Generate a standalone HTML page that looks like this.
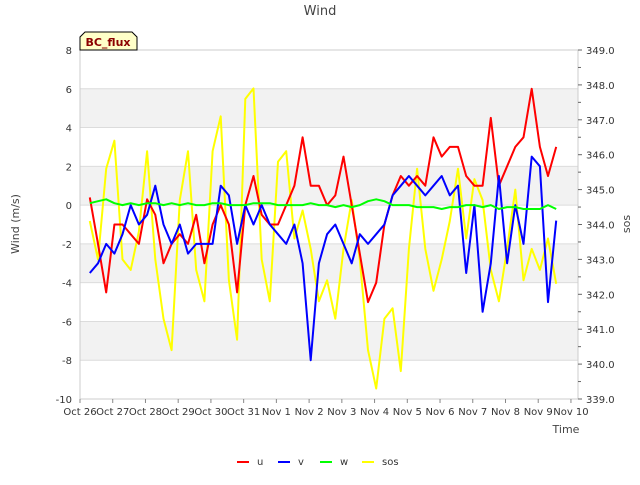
<!DOCTYPE html>
<html><head><meta charset="utf-8"><style>
body{margin:0;background:#fff;font-family:"Liberation Sans","DejaVu Sans",sans-serif;}
svg text{font-family:"DejaVu Sans","Liberation Sans",sans-serif;}
</style></head><body>
<svg id="chart" width="640" height="480" viewBox="0 0 640 480" xmlns="http://www.w3.org/2000/svg">
<text x="320" y="15" text-anchor="middle" font-size="13" fill="#444">Wind</text>
<g id="bands"></g>
<g id="grid"></g>
<g id="axes"></g>
<g id="series"></g>
<g>
<path d="M80,50 L80,37 L85,32 L132,32 L137,37 L137,50 Z" fill="#ffffc8" stroke="#000" stroke-width="1"/>
<text x="108" y="46" text-anchor="middle" font-size="11" font-weight="bold" fill="#8b0000">BC_flux</text>
</g>
<text transform="translate(19,224) rotate(-90)" text-anchor="middle" font-size="11" fill="#444">Wind (m/s)</text>
<text transform="translate(630,224) rotate(-90)" text-anchor="middle" font-size="11" fill="#444">sos</text>
<text x="566" y="433" text-anchor="middle" font-size="11" fill="#444">Time</text>
<g id="legend"></g>
</svg>
<script>
const ns="http://www.w3.org/2000/svg";
const xTicks=["Oct 26","Oct 27","Oct 28","Oct 29","Oct 30","Oct 31","Nov 1","Nov 2","Nov 3","Nov 4","Nov 5","Nov 6","Nov 7","Nov 8","Nov 9","Nov 10"];
const yTicks=[-10,-8,-6,-4,-2,0,2,4,6,8];
const y2Ticks=[339,340,341,342,343,344,345,346,347,348,349];
const tStart=0.3, tStep=0.25;
const u=[0.4,-2,-4.5,-1,-1,-1.5,-2,0.3,-0.5,-3,-2,-1.5,-2,-0.5,-3,-1,0,-1,-4.5,0,1.5,-0.5,-1,-1,0,1,3.5,1,1,0,0.5,2.5,0,-2.5,-5,-4,-1,0.5,1.5,1,1.5,1,3.5,2.5,3,3,1.5,1,1,4.5,1,2,3,3.5,6,3,1.5,3];
const v=[-3.5,-3,-2,-2.5,-1.5,0,-1,-0.5,1,-1,-2,-1,-2.5,-2,-2,-2,1,0.5,-2,0,-1,0,-1,-1.5,-2,-1,-3,-8,-3,-1.5,-1,-2,-3,-1.5,-2,-1.5,-1,0.5,1,1.5,1,0.5,1,1.5,0.5,1,-3.5,0,-5.5,-3,1.5,-3,0,-2,2.5,2,-5,-0.8];
const w=[0.1,0.2,0.3,0.1,0,0.1,0,0.1,0.1,0,0.1,0,0.1,0,0,0.1,0.1,0,0,0,0.1,0.1,0.1,0,0,0,0,0.1,0,0,-0.1,0,-0.1,0,0.2,0.3,0.2,0,0,0,-0.1,-0.1,-0.1,-0.2,-0.1,-0.1,0,0,-0.1,0,-0.2,-0.1,-0.1,-0.2,-0.2,-0.2,0,-0.2];
const sos=[344.1,343.0,345.6,346.4,343.0,342.7,343.8,346.1,343.0,341.3,340.4,344.7,346.1,342.7,341.8,346.1,347.1,342.4,340.7,347.6,347.9,343.0,341.8,345.8,346.1,343.6,344.4,343.3,341.8,342.4,341.3,343.3,344.7,343.0,340.4,339.3,341.3,341.6,339.8,343.3,345.6,343.3,342.1,343.0,344.1,345.6,343.6,345.3,344.7,342.7,341.8,343.3,345.0,342.4,343.3,342.7,343.6,342.3];
const X0=80,X1=578,Ytop=50,Ybot=399;
const xs=d=>X0+d*32.73;
const ys=val=>Ybot-(val+10)*(Ybot-Ytop)/18;
const ys2=s=>Ybot-(s-339)*(Ybot-Ytop)/10;
function mk(tag,attrs,parent){const e=document.createElementNS(ns,tag);for(const k in attrs)e.setAttribute(k,attrs[k]);parent.appendChild(e);return e;}
const bands=document.getElementById('bands'),grid=document.getElementById('grid'),axes=document.getElementById('axes'),ser=document.getElementById('series'),leg=document.getElementById('legend');
const bg=mk('rect',{x:X0,y:Ytop,width:X1-X0,height:Ybot-Ytop,fill:'#fff'},bands);


[[6,4],[2,0],[-2,-4],[-6,-8]].forEach(b=>{const r=mk('rect',{x:X0,y:ys(b[0]),width:X1-X0,height:ys(b[1])-ys(b[0]),fill:'#f2f2f2'},bands);

});
yTicks.forEach(t=>{const l=mk('line',{x1:X0,x2:X1,y1:ys(t),y2:ys(t),stroke:'#dcdcdc','stroke-width':1},grid);


const tx=mk('text',{x:X0-8,y:ys(t)+4,'text-anchor':'end','font-size':10,fill:'#333'},axes);tx.textContent=t;

});
const fr=mk('rect',{x:X0,y:Ytop,width:X1-X0,height:Ybot-Ytop,fill:'none',stroke:'#ccc'},axes);


xTicks.forEach((t,i)=>{const x=xs(i);mk('line',{x1:x,x2:x,y1:Ybot,y2:Ybot+4,stroke:'#888'},axes);
const tx=mk('text',{x:x,y:Ybot+16,'text-anchor':'middle','font-size':10,fill:'#333'},axes);tx.textContent=t;

});
y2Ticks.forEach((t,i)=>{const y=ys2(t);mk('line',{x1:X1,x2:X1+4,y1:y,y2:y,stroke:'#666'},axes);
if(i<y2Ticks.length-1)mk('line',{x1:X1,x2:X1+3,y1:ys2(t+0.5),y2:ys2(t+0.5),stroke:'#666'},axes);
const tx=mk('text',{x:X1+8,y:y+4,'font-size':10,fill:'#333'},axes);tx.textContent=t.toFixed(1);

});
function line(data,fy,color,name){const pts=data.map((d,i)=>xs(tStart+i*tStep).toFixed(1)+','+fy(d).toFixed(1)).join(' ');
const p=mk('polyline',{points:pts,fill:'none',stroke:color,'stroke-width':2,'stroke-linejoin':'round'},ser);

}
line(sos,ys2,'#ffff00','sos-line');
line(u,ys,'#ff0000','u-line');
line(v,ys,'#0000ff','v-line');
line(w,ys,'#00ff00','w-line');
[['u','#ff0000',237],['v','#0000ff',278],['w','#00ff00',320],['sos','#ffff00',362]].forEach(l=>{
const g=mk('g',{},leg);


mk('line',{x1:l[2],x2:l[2]+12,y1:462,y2:462,stroke:l[1],'stroke-width':2},g);
const t=mk('text',{x:l[2]+20,y:465,'font-size':10,fill:'#333'},g);t.textContent=l[0];});
</script>
</body></html>
